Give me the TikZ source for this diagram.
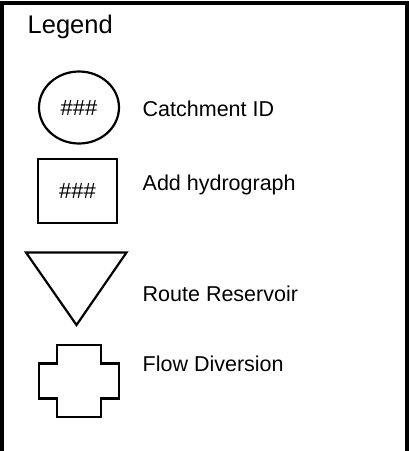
\documentclass[tikz,border=0pt]{standalone}
\usepackage{fontspec}
\setmainfont{Liberation Sans}
\usetikzlibrary{shapes.geometric,positioning}

\begin{document}
\begin{tikzpicture}[
    x=1pt, y=-1pt,
    every node/.style={inner sep=0pt},
    frameline/.style={line width=4pt, black},
    symbol/.style={draw=black, line width=2.2pt},
    hashtext/.style={font=\fontsize{22}{26}\selectfont},
    keytext/.style={font=\fontsize{21.5}{25}\selectfont, anchor=base west},
    titletext/.style={font=\fontsize{25.5}{30}\selectfont, anchor=base west},
]
\useasboundingbox (0,0) rectangle (409,451);

% --- Frame (open at the bottom) ---
\draw[frameline] (2.3,451) -- (2.3,2.6) -- (406.8,2.6) -- (406.8,451);

% --- Title ---
\node[titletext] (legend) at (27.5,33.3) {Legend};

% --- Row 1: catchment ---
\node[symbol, ellipse, minimum width=80, minimum height=72, hashtext] (catch) at (79,107.5) {\#\#\#};
\node[keytext] (catchlbl) at (142.5,116) {Catchment ID};

% --- Row 2: hydrograph ---
\node[symbol, rectangle, minimum width=79, minimum height=64, hashtext] (hydro) at (77.5,191) {\#\#\#};
\node[keytext] (hydrolbl) at (142.5,190.7) {Add hydrograph};

% --- Row 3: reservoir ---
\draw[symbol, line join=miter] (26,252.5) -- (126.5,252.5) -- (76.5,325) -- cycle;
\node[keytext] (routelbl) at (142.5,301.7) {Route Reservoir};

% --- Row 4: diversion ---
\draw[symbol] (57,345) -- (101,345) -- (101,363.5) -- (119,363.5) -- (119,398.5)
  -- (101,398.5) -- (101,417) -- (57,417) -- (57,398.5) -- (39,398.5)
  -- (39,363.5) -- (57,363.5) -- cycle;
\node[keytext] (flowlbl) at (142.5,371) {Flow Diversion};

\end{tikzpicture}
\end{document}
